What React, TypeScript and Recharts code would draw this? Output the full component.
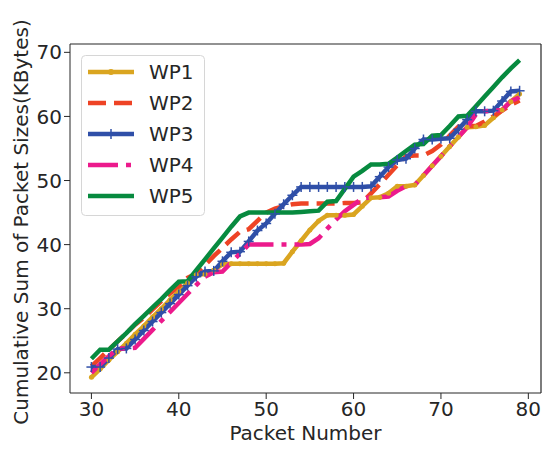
import { LineChart, Line, XAxis, YAxis, ReferenceLine } from "recharts";

const packets = [
  30, 31, 32, 33, 34, 35, 36, 37, 38, 39, 40, 41, 42, 43, 44, 45, 46, 47, 48, 49,
  50, 51, 52, 53, 54, 55, 56, 57, 58, 59, 60, 61, 62, 63, 64, 65, 66, 67, 68, 69,
  70, 71, 72, 73, 74, 75, 76, 77, 78, 79,
];

const wp1 = [
  19.3, 20.6, 22.0, 23.3, 24.6, 26.0, 27.3, 28.7, 30.0, 31.4, 32.7, 34.0, 35.3, 35.4, 36.0, 36.9, 37.0, 37.0, 37.0, 37.0,
  37.0, 37.0, 37.1, 38.9, 40.6, 42.3, 43.7, 44.6, 44.6, 44.6, 44.7, 46.0, 47.3, 47.4, 48.0, 49.1, 49.1, 49.3, 50.8, 52.3,
  53.8, 55.3, 56.8, 58.3, 58.4, 58.6, 59.8, 61.0, 62.3, 63.5,
];
const wp2 = [
  21.0, 22.3, 23.6, 24.9, 26.2, 27.5, 28.6, 29.9, 31.2, 32.4, 33.5, 34.8, 35.5, 36.8, 38.2, 39.5, 40.8, 42.0, 42.4, 43.7,
  45.0, 45.6, 46.0, 46.3, 46.4, 46.4, 46.4, 46.4, 46.4, 46.5, 46.5, 46.6, 48.0, 49.4, 50.9, 52.4, 53.8, 53.9, 53.9, 54.6,
  55.6, 57.0, 58.4, 58.5, 58.5, 59.2, 60.0, 60.9, 61.8, 62.5,
];
const wp3 = [
  20.9, 20.9, 22.3, 23.7, 23.8, 25.2, 26.6, 28.0, 29.4, 30.8, 32.2, 33.6, 35.0, 35.8, 35.9, 37.4, 38.8, 38.9, 40.5, 42.2,
  43.3, 44.8, 46.3, 47.7, 49.0, 49.0, 49.0, 49.0, 49.0, 49.0, 49.0, 49.0, 49.1, 50.6, 52.1, 53.2, 53.4, 55.0, 56.4, 56.4,
  56.5, 56.6, 58.0, 59.5, 60.8, 60.8, 60.9, 62.4, 63.9, 64.0,
];
const wp4 = [
  20.0, 21.3, 22.6, 23.8, 23.8, 23.9, 25.3, 26.7, 28.1, 29.5, 30.9, 32.3, 33.7, 35.0, 35.7, 35.8, 37.2, 38.6, 40.0, 40.0,
  40.0, 40.0, 40.0, 40.0, 40.0, 40.1, 41.0, 42.5, 43.9, 45.2, 46.2, 47.2, 47.4, 47.4, 47.5, 48.4, 49.1, 49.3, 50.8, 52.3,
  53.8, 55.3, 56.8, 58.3, 60.3, 60.8, 60.9, 61.0, 62.4, 63.0,
];
const wp5 = [
  22.2, 23.6, 23.6, 24.9, 26.2, 27.6, 28.9, 30.2, 31.5, 32.9, 34.2, 34.3, 36.0, 37.7, 39.4, 41.1, 42.8, 44.4, 45.0, 45.0,
  45.0, 45.0, 45.0, 45.0, 45.1, 45.2, 45.3, 46.7, 46.8, 48.7, 50.6, 51.5, 52.5, 52.5, 52.6, 53.6, 54.6, 55.6, 55.7, 57.0,
  57.1, 58.5, 60.0, 60.1, 61.6, 63.1, 64.6, 66.1, 67.5, 68.8,
];

const xTicks = [30, 40, 50, 60, 70, 80];
const yTicks = [20, 30, 40, 50, 60, 70];

const data = packets.map((p, i) => ({
  packet: p,
  WP1: wp1[i],
  WP2: wp2[i],
  WP3: wp3[i],
  WP4: wp4[i],
  WP5: wp5[i],
}));

const COLORS = {
  WP1: "#DAA520",
  WP2: "#EE4325",
  WP3: "#2F4FA8",
  WP4: "#EC1A8C",
  WP5: "#078A3F",
};

const font = "DejaVu Sans, sans-serif";
const ink = "#262626";
const X_DOMAIN: [number, number] = [27.55, 81.45];
const Y_DOMAIN: [number, number] = [16.85, 71.3];

const PlusDot = (props: any) => {
  const { cx, cy } = props;
  if (cx == null || cy == null) return null;
  return (
    <g>
      <line x1={cx} y1={cy - 5} x2={cx} y2={cy + 5} stroke={COLORS.WP3} strokeWidth={1.5} />
      <line x1={cx - 5} y1={cy} x2={cx + 5} y2={cy} stroke={COLORS.WP3} strokeWidth={1.5} />
    </g>
  );
};

// legend drawn by hand so it doesn't push the plot area around
const LegendBox = () => {
  const rows = [
    { name: "WP1", dash: undefined, marker: "o" },
    { name: "WP2", dash: "18 8", marker: "" },
    { name: "WP3", dash: undefined, marker: "+" },
    { name: "WP4", dash: "30 8 5 8", marker: "" },
    { name: "WP5", dash: undefined, marker: "" },
  ];
  return (
    <svg width={124} height={161} style={{ position: "absolute", left: 81, top: 55 }}>
      <rect x={0.5} y={0.5} width={123} height={160} rx={4} fill="rgba(255,255,255,0.85)" stroke="#d6d6d6" />
      {rows.map((r, i) => {
        const y = 17 + i * 31;
        const c = (COLORS as any)[r.name];
        return (
          <g key={r.name}>
            <line x1={7} y1={y} x2={53} y2={y} stroke={c} strokeWidth={4.5} strokeDasharray={r.dash} />
            {r.marker === "o" && <circle cx={30} cy={y} r={3} fill={c} />}
            {r.marker === "+" && (
              <line x1={30} y1={y - 5} x2={30} y2={y + 5} stroke={c} strokeWidth={1.5} />
            )}
            <text x={68} y={y + 7} fontSize={20} fontFamily={font} fill={ink}>
              {r.name}
            </text>
          </g>
        );
      })}
    </svg>
  );
};

export default function App() {
  return (
    <div style={{ position: "absolute", left: 0, top: 0, width: 544, height: 449, background: "#fff" }}>
      <LineChart width={544} height={449} data={data} margin={{ top: 44, right: 3, bottom: 0, left: 0 }}>
        <XAxis
          dataKey="packet"
          type="number"
          domain={X_DOMAIN}
          ticks={xTicks}
          allowDataOverflow
          height={56}
          tickSize={6}
          tickMargin={3}
          stroke={ink}
          tick={{ fontSize: 20, fill: ink, fontFamily: font }}
          label={{ value: "Packet Number", position: "insideBottom", offset: 9, fontSize: 20, fill: ink, fontFamily: font }}
        />
        <YAxis
          type="number"
          domain={Y_DOMAIN}
          ticks={yTicks}
          allowDataOverflow
          width={70}
          tickSize={6}
          tickMargin={2}
          stroke={ink}
          tick={{ fontSize: 20, fill: ink, fontFamily: font }}
          label={{
            content: () => (
              <text
                x={28}
                y={222}
                transform="rotate(-90 28 222)"
                textAnchor="middle"
                fontSize={20}
                fontFamily={font}
                fill={ink}
              >
                Cumulative Sum of Packet Sizes(KBytes)
              </text>
            ),
          }}
        />
        <ReferenceLine y={Y_DOMAIN[1]} stroke={ink} strokeWidth={1.2} />
        <ReferenceLine x={X_DOMAIN[1]} stroke={ink} strokeWidth={1.2} />
        <Line
          dataKey="WP1"
          stroke={COLORS.WP1}
          strokeWidth={4.5}
          dot={{ r: 2.5, fill: COLORS.WP1, stroke: "none" }}
          isAnimationActive={false}
          type="linear"
        />
        <Line
          dataKey="WP2"
          stroke={COLORS.WP2}
          strokeWidth={4.5}
          strokeDasharray="18 8"
          dot={false}
          isAnimationActive={false}
          type="linear"
        />
        <Line
          dataKey="WP3"
          stroke={COLORS.WP3}
          strokeWidth={4.5}
          dot={<PlusDot />}
          isAnimationActive={false}
          type="linear"
        />
        <Line
          dataKey="WP4"
          stroke={COLORS.WP4}
          strokeWidth={4.5}
          strokeDasharray="30 8 5 8"
          dot={false}
          isAnimationActive={false}
          type="linear"
        />
        <Line
          dataKey="WP5"
          stroke={COLORS.WP5}
          strokeWidth={4.5}
          dot={false}
          isAnimationActive={false}
          type="linear"
        />
      </LineChart>
      <LegendBox />
    </div>
  );
}
